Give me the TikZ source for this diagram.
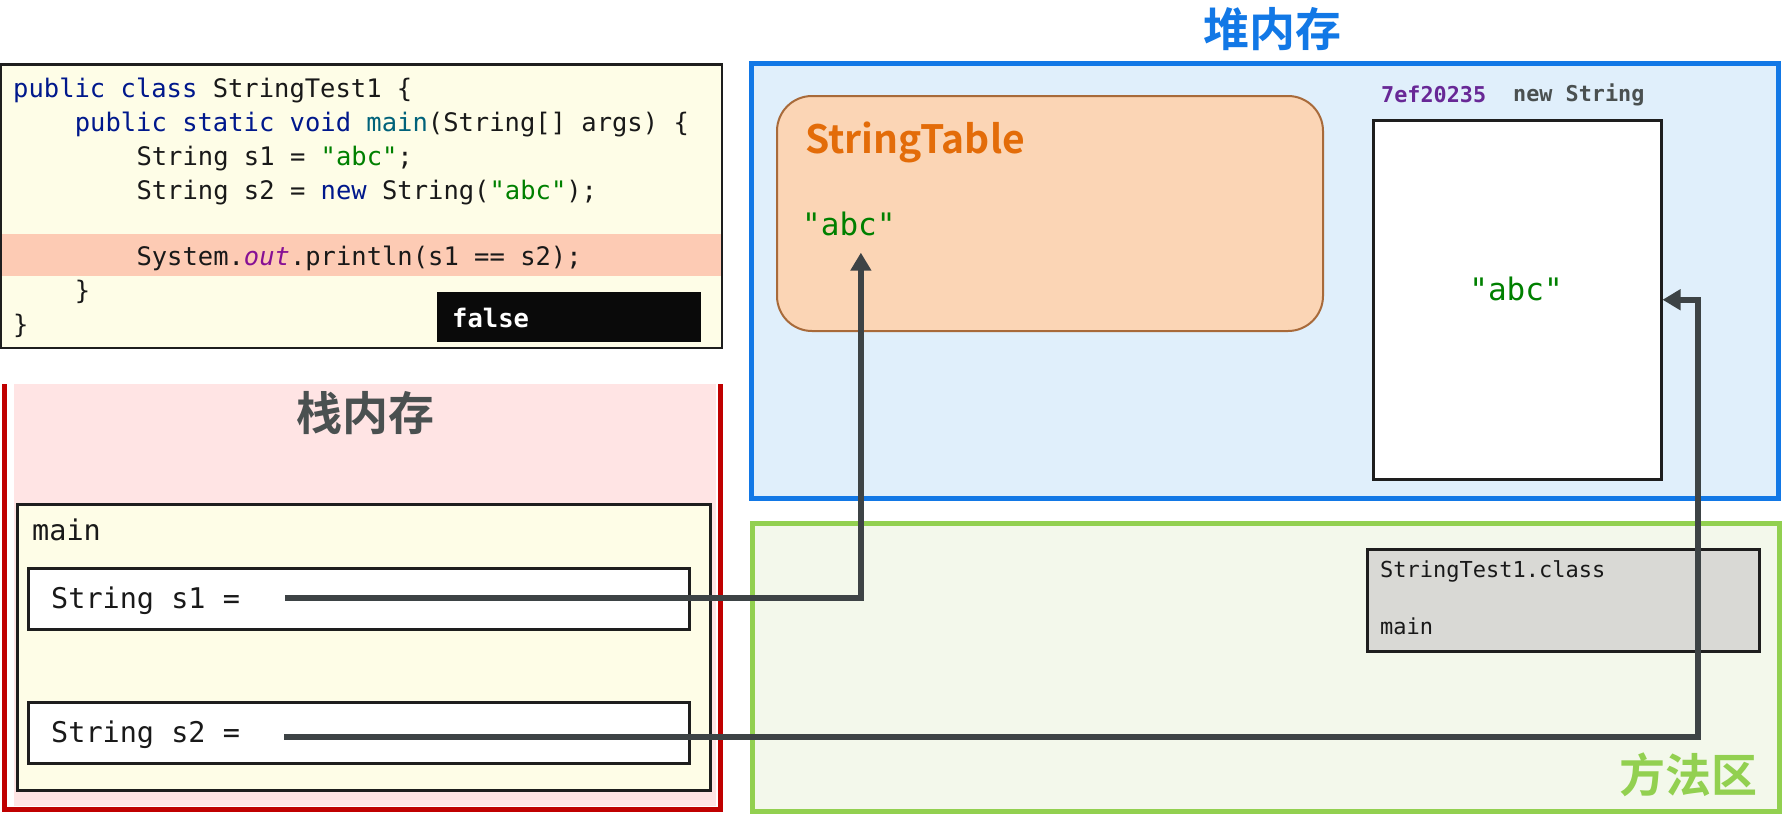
\documentclass[tikz,border=0pt]{standalone}
\usepackage{fontspec}
\usepackage{tikz}
\usetikzlibrary{arrows.meta,positioning,calc}
\setmonofont{DejaVu Sans Mono}
\newfontfamily\cjkfont{Noto Sans CJK SC}[BoldFont={Noto Sans CJK SC Bold}]

\definecolor{heapblue}{RGB}{18,120,230}
\definecolor{heapfill}{RGB}{224,239,251}
\definecolor{tablefill}{RGB}{251,213,181}
\definecolor{tableedge}{RGB}{168,106,58}
\definecolor{tabletext}{RGB}{227,108,9}
\definecolor{methgreen}{RGB}{146,208,80}
\definecolor{methfill}{RGB}{243,248,235}
\definecolor{stackpink}{RGB}{255,228,228}
\definecolor{stackred}{RGB}{192,0,0}
\definecolor{titlegray}{RGB}{74,80,80}
\definecolor{codebg}{RGB}{254,253,231}
\definecolor{hiline}{RGB}{253,203,180}
\definecolor{classgray}{RGB}{217,217,213}
\definecolor{refline}{RGB}{61,67,69}
\definecolor{addrpurple}{RGB}{104,40,150}
\definecolor{strgreen}{RGB}{0,128,0}
\definecolor{kwblue}{RGB}{0,24,140}
\definecolor{mthteal}{RGB}{0,98,122}
\definecolor{fldpurple}{RGB}{135,16,148}
\definecolor{edgedark}{RGB}{30,30,30}

\newcommand\kw[1]{\textcolor{kwblue}{#1}}
\newcommand\jstr[1]{\textcolor{strgreen}{#1}}
\newcommand\mth[1]{\textcolor{mthteal}{#1}}
\newcommand\fld[1]{\textcolor{fldpurple}{\itshape #1}}

\tikzset{
    code/.style={anchor=base west, inner sep=0pt, text=black!90,
        font=\ttfamily\fontsize{25.5pt}{30pt}\selectfont},
    slot/.style={anchor=base west, inner sep=0pt, text=black!90,
        font=\ttfamily\fontsize{28.5pt}{32pt}\selectfont},
    small/.style={anchor=base west, inner sep=0pt,
        font=\ttfamily\bfseries\fontsize{21.8pt}{26pt}\selectfont},
    area/.style={font=\cjkfont\bfseries\fontsize{46pt}{50pt}\selectfont, inner sep=0pt},
    box/.style={draw=edgedark, line width=2.5pt},
    ref/.style={draw=refline, line width=6pt, -{Triangle[length=18pt,width=20pt]}}
}

\begin{document}
\begin{tikzpicture}[x=1pt,y=-1pt]
    \fill[white] (0,0) rectangle (1785,816);
    \useasboundingbox (0,0) rectangle (1785,816);

    % code listing
    \fill[codebg] (1,64.5) rectangle (722,348);
    \fill[hiline] (1,234) rectangle (722,276);
    \draw[box] (1,64.5) rectangle (722,348);
    \node[code] (ln1) at (13,97) {\kw{public class} StringTest1 \{};
    \node[code] (ln2) at (74.6,131) {\kw{public static void} \mth{main}(String[] args) \{};
    \node[code] (ln3) at (136.3,165) {String s1 = \jstr{"abc"};};
    \node[code] (ln4) at (136.3,199) {String s2 = \kw{new} String(\jstr{"abc"});};
    \node[code] (ln6) at (136.3,265) {System.\fld{out}.println(s1 == s2);};
    \node[code] (ln7) at (74.6,299) {\}};
    \node[code] (ln8) at (13,333) {\}};
    \fill[black!96] (437,292) rectangle (701,342);
    \node[code, text=white, font=\ttfamily\bfseries\fontsize{25.5pt}{30pt}\selectfont] (result) at (452,327) {false};

    % stack
    \fill[stackpink] (14,384) rectangle (716,806);
    \draw[stackred, line width=5pt] (4.5,384) |- (720,809.5) -- (720,384);
    \node[area, text=titlegray] (stacktitle) at (365,413) {栈内存};
    \node[box, fill=codebg, minimum width=693pt, minimum height=286pt, anchor=north west] (frame) at (16,503) {};
    \node[slot] (framename) at (32,540) {main};
    \node[box, fill=white, minimum width=661pt, minimum height=61pt, anchor=north west] (s1box) at (27,567) {};
    \node[slot] (s1txt) at (51,608) {String s1 =};
    \node[box, fill=white, minimum width=661pt, minimum height=61pt, anchor=north west] (s2box) at (27,701) {};
    \node[slot] (s2txt) at (51,742) {String s2 =};

    % heap
    \node[area, text=heapblue] (heaptitle) at (1272,29) {堆内存};
    \draw[heapblue, fill=heapfill, line width=5pt] (751.5,63.5) rectangle (1778.5,498);
    \draw[tableedge, fill=tablefill, line width=2pt, rounded corners=35pt] (777,96) rectangle (1323,331);
    \node[anchor=base west, inner sep=0pt, text=tabletext,
        font=\cjkfont\bfseries\fontsize{39pt}{44pt}\selectfont] (strtable) at (805,153) {StringTable};
    \node[anchor=base west, inner sep=0pt, text=strgreen,
        font=\ttfamily\fontsize{31pt}{36pt}\selectfont] (tabc) at (802,235) {"abc"};
    \node[small, text=addrpurple] (addr) at (1381,102) {7ef20235};
    \node[small, text=titlegray] (newlbl) at (1513,101) {new String};
    \node[box, fill=white, minimum width=288pt, minimum height=359pt, anchor=north west] (objbox) at (1372,119) {};
    \node[anchor=base, inner sep=0pt, text=strgreen,
        font=\ttfamily\fontsize{31pt}{36pt}\selectfont] (objabc) at (1516,300) {"abc"};

    % method area
    \draw[methgreen, fill=methfill, line width=5pt] (752,523) rectangle (1779,811);
    \node[box, fill=classgray, minimum width=392pt, minimum height=102pt, anchor=north west] (classbox) at (1366,548) {};
    \node[small, font=\ttfamily\fontsize{22pt}{26pt}\selectfont, text=black!90] (classname) at (1380,577) {StringTest1.class};
    \node[small, font=\ttfamily\fontsize{22pt}{26pt}\selectfont, text=black!90] (classmain) at (1380,634) {main};
    \node[area, text=methgreen] (methtitle) at (1688,775) {方法区};

    % references
    \coordinate (s1out) at (285,598);
    \coordinate (s2out) at (284,737);
    \draw[ref] (s1out) -| ([xshift=12pt,yshift=-17pt]tabc.south);
    \draw[ref] (s2out) -| ([xshift=35pt]objbox.east) -- (objbox.east);
\end{tikzpicture}
\end{document}
